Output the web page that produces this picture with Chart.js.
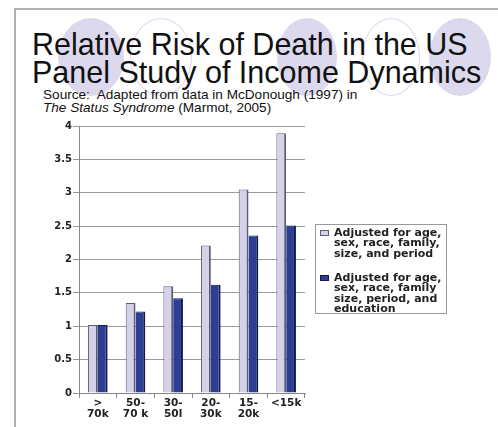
<!DOCTYPE html>
<html>
<head>
<meta charset="utf-8">
<script src="https://cdn.jsdelivr.net/npm/chart.js@4.4.1/dist/chart.umd.min.js"></script>
<style>
  html, body { margin: 0; padding: 0; background: #fff; }
  #stage { position: relative; width: 498px; height: 427px; overflow: hidden; background: #fff; }
  .ell { position: absolute; border-radius: 50%; box-sizing: border-box; }
  .fill { background: #dcd9ee; }
  .outl { border: 1.5px solid #dcd9ee; }
  #frameTop { position: absolute; left: 14px; top: 8px; width: 484px; height: 2px; background: #b0b0b0; z-index: 5; }
  #frameLeft { position: absolute; left: 14px; top: 8px; width: 2px; height: 419px; background: #b0b0b0; z-index: 5; }
  #title { position: absolute; left: 32px; top: 30.4px; font-family: "Liberation Sans", Arial, sans-serif; font-size: 30.5px; line-height: 28px; color: #111; white-space: nowrap; }
  #sub { position: absolute; left: 43px; top: 89px; font-family: "Liberation Sans", Arial, sans-serif; font-size: 13.6px; line-height: 12.8px; color: #111; white-space: nowrap; }
  #c { position: absolute; left: 0; top: 0; }
  #legend { position: absolute; left: 315px; top: 224px; width: 132px; height: 90px; box-sizing: border-box; border: 1px solid #999; background: #fff; }
  .lgtext { position: absolute; left: 18px; font-family: "DejaVu Sans", sans-serif; font-weight: bold; font-size: 11px; line-height: 10.5px; color: #222; white-space: nowrap; }
  .lgbox { position: absolute; left: 4px; width: 9px; height: 6px; box-sizing: border-box; }
</style>
</head>
<body>
<div id="stage">
  <div class="ell fill" style="left:58px;top:18px;width:66px;height:78px;"></div>
  <div class="ell outl" style="left:130px;top:18px;width:62px;height:78px;"></div>
  <div class="ell fill" style="left:277px;top:18px;width:60px;height:78px;"></div>
  <div class="ell outl" style="left:362px;top:18px;width:58px;height:78px;"></div>
  <div class="ell fill" style="left:429px;top:18px;width:62px;height:78px;"></div>
  <div id="title">Relative Risk of Death in the US<br>Panel Study of Income Dynamics</div>
  <div id="sub">Source:&nbsp; Adapted from data in McDonough (1997) in<br><i>The Status Syndrome</i> (Marmot, 2005)</div>
  <canvas id="c" width="498" height="427"></canvas>
  <div id="legend"></div>
  <div id="frameTop"></div>
  <div id="frameLeft"></div>
</div>
<script>
// ---- data ----
const categories = [[">", "70k"], ["50-", "70 k"], ["30-", "50l"], ["20-", "30k"], ["15-", "20k"], "<15k"];
const seriesNames = [
  ["Adjusted for age,", "sex, race, family,", "size, and period"],
  ["Adjusted for age,", "sex, race, family", "size, period, and", "education"]
];
const adjustedBasic = [1.02, 1.35, 1.60, 2.21, 3.05, 3.89];
const adjustedEducation = [1.02, 1.22, 1.42, 1.62, 2.36, 2.51];
const yTicks = [0, 0.5, 1, 1.5, 2, 2.5, 3, 3.5, 4];

const colors = [
  { bg: "#d5d1e9", border: "#5e5c74" },
  { bg: "#2d3f95", border: "#101a4e" }
];

// ---- legend (HTML) ----
const lg = document.getElementById("legend");
const entryTops = [2.5, 47.5];
seriesNames.forEach((lines, i) => {
  const box = document.createElement("div");
  box.className = "lgbox";
  box.style.top = (entryTops[i] + 2.5) + "px";
  box.style.background = colors[i].bg;
  box.style.border = "1px solid " + colors[i].border;
  lg.appendChild(box);
  const t = document.createElement("div");
  t.className = "lgtext";
  t.style.top = entryTops[i] + "px";
  t.innerHTML = lines.join("<br>");
  lg.appendChild(t);
});

// ---- chart ----
const tickFont = { family: "DejaVu Sans", weight: "bold", size: 10.5, lineHeight: 1.05 };
new Chart(document.getElementById("c"), {
  type: "bar",
  data: {
    labels: categories,
    datasets: [
      {
        label: seriesNames[0].join(" "),
        data: adjustedBasic,
        backgroundColor: colors[0].bg,
        borderColor: colors[0].border,
        borderWidth: { left: 1, top: 1, right: 2, bottom: 0 },
        borderSkipped: false
      },
      {
        label: seriesNames[1].join(" "),
        data: adjustedEducation,
        backgroundColor: colors[1].bg,
        borderColor: colors[1].border,
        borderWidth: { left: 0, top: 1, right: 2, bottom: 0 },
        borderSkipped: false
      }
    ]
  },
  options: {
    responsive: false,
    animation: false,
    devicePixelRatio: 1,
    layout: { padding: { left: 0, right: 193, top: 126, bottom: 0 } },
    plugins: { legend: { display: false }, tooltip: { enabled: false }, title: { display: false } },
    datasets: { bar: { categoryPercentage: 0.52, barPercentage: 1.0 } },
    scales: {
      x: {
        offset: true,
        grid: { display: true, offset: true, drawOnChartArea: false, drawTicks: true, tickLength: 5, color: "#888", lineWidth: 1 },
        border: { display: true, color: "#888", width: 1 },
        ticks: { font: tickFont, color: "#222", padding: 0, maxRotation: 0, autoSkip: false },
        afterFit: (s) => { s.height = 34; }
      },
      y: {
        min: 0,
        max: 4,
        afterBuildTicks: (s) => { s.ticks = yTicks.map(v => ({ value: v })); },
        grid: { color: "#999", lineWidth: 1, tickLength: 6 },
        border: { display: true, color: "#888", width: 1 },
        ticks: {
          font: { family: "DejaVu Sans", weight: "bold", size: 10 },
          color: "#222",
          padding: 1,
          callback: (v) => String(v)
        },
        afterFit: (s) => { s.width = 79; }
      }
    }
  }
});
</script>
</body>
</html>
